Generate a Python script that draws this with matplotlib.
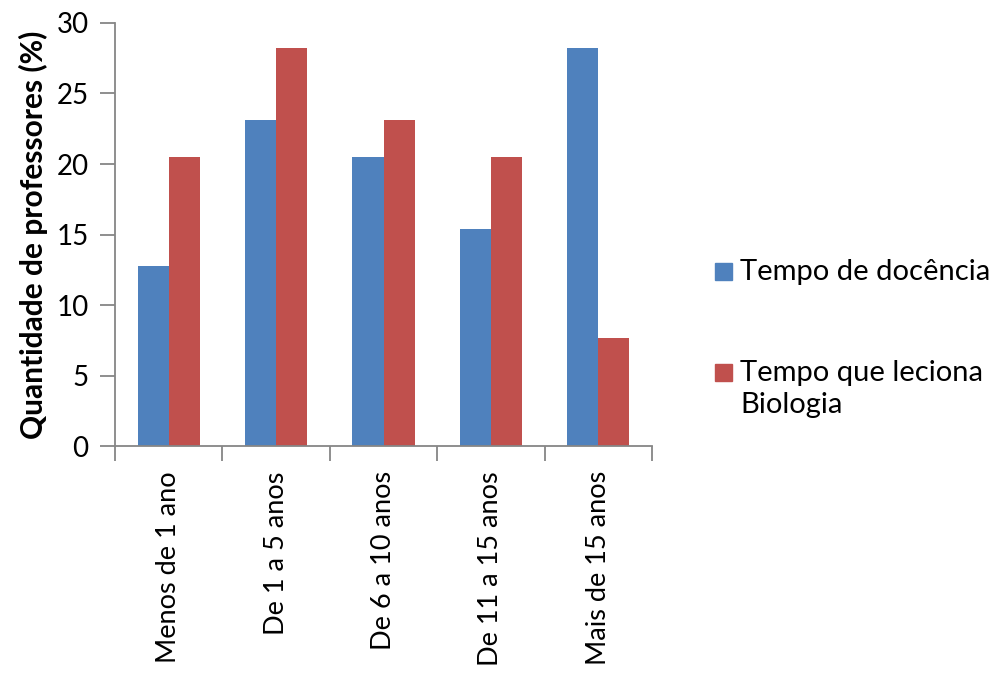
import numpy as np
import matplotlib.pyplot as plt
from matplotlib.patches import Rectangle

plt.rcParams['font.family'] = ['Lato', 'DejaVu Sans']

categorias = ['Menos de 1 ano', 'De 1 a 5 anos', 'De 6 a 10 anos',
              'De 11 a 15 anos', 'Mais de 15 anos']
tempo_docencia = [12.8, 23.1, 20.5, 15.4, 28.2]
tempo_biologia = [20.5, 28.2, 23.1, 20.5, 7.7]
series = ['Tempo de docência', 'Tempo que leciona\nBiologia']

azul = '#4F81BD'
vermelho = '#C0504D'
cinza = '#868686'

fig = plt.figure(figsize=(10, 6.75), dpi=100)
ax = fig.add_axes([0.115, 0.339, 0.537, 0.627])

x = np.arange(len(categorias))
w = 0.29
ax.bar(x - w / 2, tempo_docencia, w, color=azul)
ax.bar(x + w / 2, tempo_biologia, w, color=vermelho)

ax.set_xlim(-0.5, len(categorias) - 0.5)
ax.set_ylim(0, 30)
ax.set_yticks(range(0, 31, 5))

# ticks do eixo x nas divisas entre categorias
ax.set_xticks(np.arange(-0.5, len(categorias), 1.0))
ax.set_xticklabels([])
ax.set_xticks(x, minor=True)
ax.set_xticklabels(categorias, minor=True, rotation=90, fontsize=19.5)
ax.tick_params(axis='x', which='minor', length=0, pad=18)
ax.tick_params(axis='x', which='major', length=11, width=1.3, color=cinza)
ax.tick_params(axis='y', length=11, width=1.3, color=cinza, labelsize=20, pad=8)

for s in ['top', 'right']:
    ax.spines[s].set_visible(False)
for s in ['left', 'bottom']:
    ax.spines[s].set_color(cinza)
    ax.spines[s].set_linewidth(1.3)

ax.set_ylabel('Quantidade de professores (%)', fontsize=21.5, fontweight='bold',
              labelpad=6)

# legenda desenhada à mão: quadrado alinhado com a primeira linha do texto
leg_x = 0.715
leg_y = [1 - 271 / 675, 1 - 372 / 675]
q = 0.017
for cor, nome, y in zip([azul, vermelho], series, leg_y):
    fig.add_artist(Rectangle((leg_x, y - q * 1000 / 675 / 2), q, q * 1000 / 675,
                             transform=fig.transFigure, color=cor))
    fig.text(leg_x + 0.025, y + 0.018, nome, fontsize=21, va='top', ha='left',
             linespacing=1.3)

fig.savefig('out.png', dpi=100)
